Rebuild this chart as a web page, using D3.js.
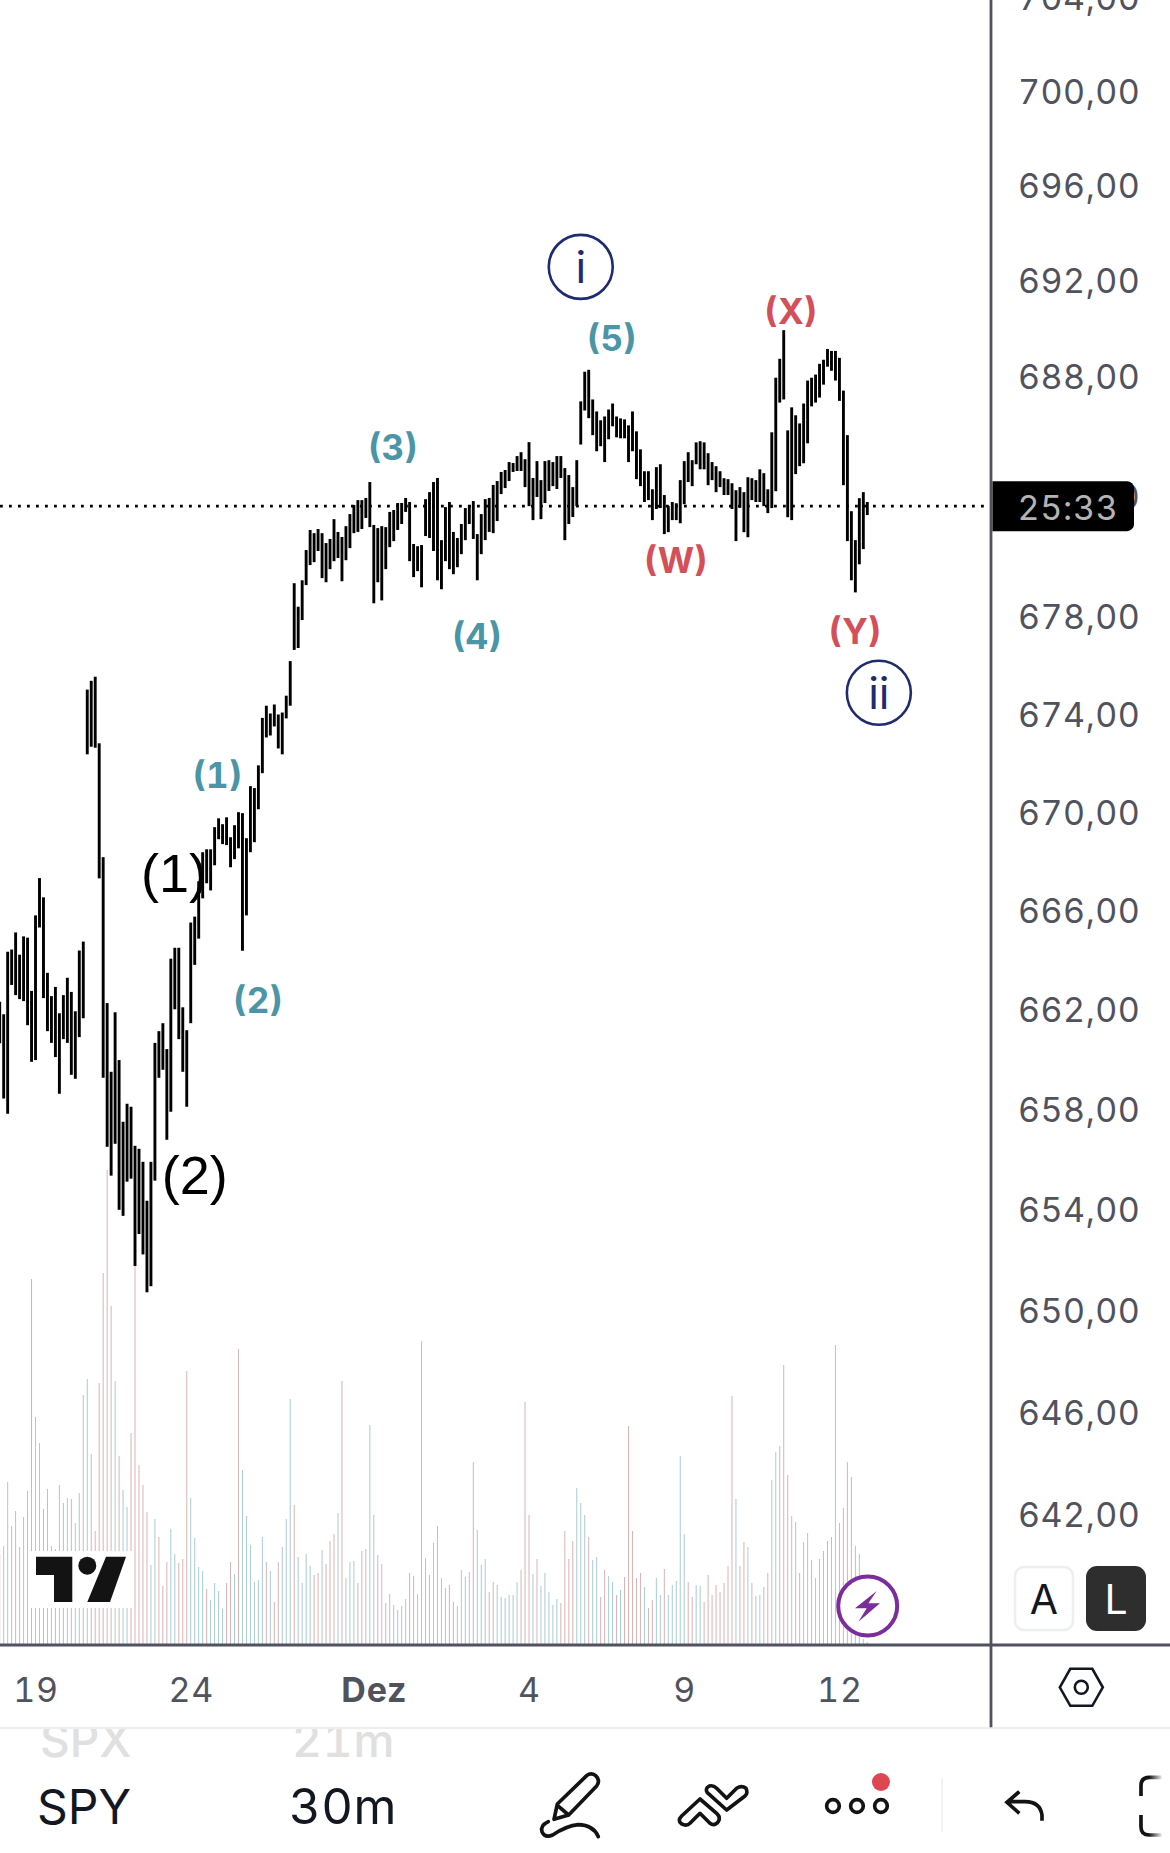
<!DOCTYPE html>
<html>
<head>
<meta charset="utf-8">
<script src="https://cdn.jsdelivr.net/npm/d3@7"></script>
<style>
    html, body { margin: 0; padding: 0; background: #fff; }
    svg { display: block; }
    text { font-family: Inter, "Noto Sans", sans-serif; font-feature-settings: "tnum"; }
</style>
</head>
<body>
<svg id="chart" width="1170" height="1853"></svg>
<script>
// 30m bars, oldest first
const highs = [
    662.34, 661.84, 664.36, 664.45, 665.14, 664.24, 664.98, 664.93, 662.78, 665.83, 667.34, 666.56, 663.51,
    662.57, 662.94, 661.88, 662.61, 663.31, 662.74, 661.96, 664.41, 664.77, 675.03, 675.39, 675.56, 672.83,
    668.19, 662.29, 659.53, 661.92, 660.00, 657.53, 658.25, 658.13, 656.57, 656.45, 655.93, 654.38, 655.93,
    660.69, 661.16, 661.48, 660.44, 664.08, 664.52, 664.52, 662.12, 661.20, 665.54, 665.78, 667.21, 668.39,
    668.51, 668.51, 669.41, 669.77, 669.53, 669.81, 669.00, 669.49, 670.02, 669.98, 668.96, 671.08, 671.00,
    671.93, 673.87, 674.37, 674.05, 674.42, 674.01, 674.09, 674.78, 676.20, 679.41, 678.44, 679.53, 680.78,
    681.61, 681.48, 681.65, 681.48, 681.07, 681.24, 682.06, 681.53, 681.32, 681.77, 682.27, 682.65, 682.85,
    682.85, 682.94, 683.60, 681.82, 681.69, 681.77, 681.73, 682.36, 682.44, 682.73, 682.73, 682.94, 682.77,
    681.03, 680.94, 680.99, 682.89, 683.18, 683.60, 683.77, 681.19, 682.56, 682.77, 681.53, 681.28, 681.86,
    682.52, 682.65, 682.81, 681.44, 682.27, 682.89, 682.94, 683.48, 683.64, 684.02, 684.10, 684.43, 684.39,
    684.68, 684.84, 684.55, 685.26, 683.77, 684.47, 683.68, 684.47, 684.51, 684.43, 684.68, 684.68, 684.18,
    683.89, 683.39, 684.51, 686.96, 688.20, 688.28, 687.04, 686.54, 686.17, 686.33, 686.62, 686.87, 686.33,
    686.25, 686.21, 685.96, 686.54, 685.71, 684.96, 684.05, 684.05, 683.30, 684.22, 684.34, 683.06, 682.60,
    682.77, 682.72, 683.68, 684.47, 684.84, 684.51, 685.25, 685.30, 685.25, 684.80, 684.43, 684.26, 684.05,
    683.76, 683.72, 683.55, 683.26, 683.39, 683.18, 683.80, 683.76, 683.68, 684.13, 683.97, 683.30, 685.67,
    687.95, 688.74, 689.94, 685.75, 686.71, 686.38, 686.04, 686.87, 687.83, 687.95, 688.08, 688.53, 688.70,
    689.15, 689.07, 689.07, 688.78, 687.41, 685.55, 682.39, 681.19, 682.93, 683.18, 682.77
];
const lows = [
    660.67, 658.46, 657.85, 663.02, 662.61, 662.45, 662.37, 661.40, 659.93, 660.00, 665.34, 662.49, 661.16,
    660.69, 660.12, 658.65, 660.84, 660.69, 659.41, 659.25, 660.92, 661.68, 672.38, 672.69, 672.65, 667.33,
    659.29, 656.53, 655.38, 656.65, 654.02, 653.78, 655.14, 655.26, 651.79, 653.06, 652.25, 650.75, 650.99,
    655.18, 659.29, 659.61, 656.81, 657.93, 662.04, 660.84, 659.53, 658.13, 661.48, 663.83, 664.89, 666.52,
    667.13, 666.84, 667.86, 668.92, 668.72, 668.68, 667.78, 668.11, 668.55, 664.40, 665.83, 668.39, 668.80,
    670.14, 671.61, 673.07, 673.15, 673.52, 672.62, 672.38, 673.85, 674.37, 676.66, 676.74, 677.89, 679.33,
    680.16, 680.28, 680.74, 679.62, 679.45, 679.99, 680.32, 680.45, 679.49, 680.36, 680.86, 681.48, 681.53,
    681.65, 682.11, 681.73, 678.58, 679.45, 678.70, 679.99, 680.90, 681.15, 681.61, 681.86, 682.36, 680.32,
    679.66, 679.91, 679.24, 681.36, 681.28, 680.74, 679.53, 679.16, 680.32, 679.99, 679.78, 680.07, 680.61,
    681.19, 681.86, 681.24, 679.53, 680.61, 681.19, 681.53, 681.48, 681.98, 683.10, 683.35, 683.64, 684.02,
    684.06, 684.06, 683.39, 682.60, 682.02, 682.98, 682.06, 682.73, 683.23, 683.43, 683.31, 683.77, 681.19,
    681.86, 682.15, 682.60, 685.16, 686.58, 686.26, 685.55, 684.88, 685.09, 684.43, 685.38, 685.92, 685.46,
    685.42, 685.42, 684.43, 684.88, 683.72, 683.43, 682.77, 682.85, 682.02, 682.48, 682.52, 681.44, 681.52,
    682.02, 682.02, 681.89, 682.68, 683.60, 683.43, 684.34, 684.13, 684.13, 683.47, 683.68, 683.18, 683.39,
    683.06, 683.06, 682.48, 681.15, 682.53, 681.52, 681.31, 682.85, 682.77, 682.77, 682.60, 682.31, 682.52,
    683.22, 686.91, 687.04, 682.14, 682.02, 683.93, 684.26, 684.38, 685.21, 686.75, 686.91, 687.12, 687.66,
    688.41, 688.24, 687.83, 686.98, 683.47, 681.15, 679.53, 679.03, 680.19, 680.82, 682.23
];
// volume per bar (relative units), 1 = up bar, 0 = down bar
const volumes = [
    90, 98, 162, 118, 133, 97, 127, 153, 365, 227, 201, 135, 155, 98, 95, 159, 141, 146, 145, 121, 151, 249, 265,
    190, 113, 261, 371, 474, 338, 263, 188, 154, 137, 211, 385, 179, 159, 132, 79, 125, 107, 58, 82, 115, 90, 81,
    85, 273, 146, 106, 77, 73, 55, 44, 61, 53, 35, 61, 82, 70, 295, 174, 128, 99, 62, 64, 107, 82, 73, 42, 82, 97,
    125, 245, 139, 87, 61, 90, 78, 69, 71, 94, 80, 103, 110, 131, 263, 66, 82, 83, 61, 93, 95, 219, 129, 89, 80,
    41, 50, 39, 34, 38, 45, 71, 68, 50, 303, 86, 69, 101, 118, 66, 56, 59, 42, 38, 74, 67, 72, 182, 114, 79, 85,
    52, 62, 59, 47, 46, 49, 49, 62, 74, 242, 129, 70, 85, 58, 71, 52, 39, 45, 41, 113, 85, 103, 156, 141, 129, 107,
    84, 87, 47, 74, 68, 62, 49, 54, 67, 218, 113, 66, 71, 57, 36, 44, 66, 49, 75, 49, 59, 63, 188, 110, 62, 47, 59,
    58, 42, 69, 49, 59, 52, 61, 78, 248, 145, 78, 102, 97, 61, 48, 49, 57, 71, 164, 192, 198, 279, 169, 128, 122,
    71, 102, 111, 84, 66, 85, 93, 103, 107, 299, 121, 136, 182, 167, 98, 90, 5, 2
];
const volumeUp = [
    0, 1, 1, 0, 0, 0, 1, 0, 0, 1, 1, 0, 0, 1, 0, 1, 0, 1, 0, 1, 1, 0, 1, 0, 0, 0, 0, 0, 0, 1, 0, 1, 1, 0, 0, 0, 0,
    0, 1, 1, 0, 0, 0, 1, 1, 0, 0, 0, 1, 1, 1, 1, 0, 1, 1, 1, 1, 0, 0, 1, 0, 1, 1, 1, 1, 1, 1, 0, 1, 0, 0, 1, 1, 1,
    0, 1, 1, 1, 1, 0, 0, 1, 0, 0, 0, 1, 0, 1, 1, 1, 0, 0, 0, 1, 1, 0, 0, 0, 0, 1, 1, 1, 1, 0, 0, 1, 0, 1, 0, 1, 0,
    1, 1, 0, 0, 0, 1, 1, 1, 0, 1, 1, 1, 0, 0, 1, 1, 1, 1, 1, 1, 0, 0, 0, 1, 0, 1, 1, 1, 1, 1, 0, 0, 0, 0, 1, 1, 1,
    0, 1, 1, 0, 0, 1, 1, 0, 1, 0, 0, 0, 0, 0, 1, 0, 0, 1, 1, 0, 1, 1, 1, 1, 1, 0, 0, 1, 1, 0, 0, 0, 0, 0, 0, 0, 0,
    1, 0, 0, 1, 0, 1, 1, 0, 0, 1, 1, 0, 0, 0, 1, 0, 0, 1, 1, 0, 1, 1, 1, 0, 0, 1, 0, 0, 0, 0, 0, 1, 1, 1
];
const priceTicks = [704, 700, 696, 692, 688, 683, 678, 674, 670, 666, 662, 658, 654, 650, 646, 642];
const dateTickBars = [8, 47, 93, 132, 171, 210];
const dateTickLabels = ['19', '24', 'Dez', '4', '9', '12'];
const lastPrice = 682.6;
const countdown = '25:33';
const waveLabels = [
    {text: '(1)', bar: 54.7, price: 671.55, color: '#4a96a6'},
    {text: '(2)', bar: 64.9, price: 662.4, color: '#4a96a6'},
    {text: '(3)', bar: 98.8, price: 685.05, color: '#4a96a6'},
    {text: '(4)', bar: 119.9, price: 677.25, color: '#4a96a6'},
    {text: '(5)', bar: 153.8, price: 689.6, color: '#4a96a6'},
    {text: '(W)', bar: 169.9, price: 680.35, color: '#d45059'},
    {text: '(X)', bar: 198.8, price: 690.75, color: '#d45059'},
    {text: '(Y)', bar: 214.9, price: 677.45, color: '#d45059'}
];
const bigLabels = [
    {text: '(1)', bar: 43.8, price: 667.55},
    {text: '(2)', bar: 49, price: 655.4}
];
const circleLabels = [
    {text: 'i', bar: 146, price: 692.6},
    {text: 'ii', bar: 220.9, price: 674.9}
];

let svg = d3.select('#chart'),
    axisColor = '#50535e',
    axisX = 991,
    bottomY = 1645;

let x = d3.scaleLinear().domain([0, 218]).range([-0.3, 867.3]),
    y = d3.scaleLog().domain([642, 700]).range([1515, 92]),
    v = d3.scaleLinear().domain([0, 500]).range([1644, 1144]);

// volume under the bars
svg.append('g').selectAll('line')
    .data(volumes)
    .enter().append('line')
    .attr('x1', (d, i) => x(i)).attr('x2', (d, i) => x(i))
    .attr('y1', v(0)).attr('y2', d => v(d))
    .attr('stroke', (d, i) => volumeUp[i] ? '#a8ccd1' : '#dab3b3')
    .attr('stroke-width', 1);

// last price line
svg.append('line')
    .attr('x1', 0).attr('x2', 985)
    .attr('y1', y(lastPrice)).attr('y2', y(lastPrice))
    .attr('stroke', '#000').attr('stroke-width', 2.6)
    .attr('stroke-dasharray', '2.8 6.2');

svg.append('g').selectAll('line')
    .data(highs)
    .enter().append('line')
    .attr('x1', (d, i) => x(i)).attr('x2', (d, i) => x(i))
    .attr('y1', d => y(d)).attr('y2', (d, i) => y(lows[i]))
    .attr('stroke', '#000')
    .attr('stroke-width', 2.9);

// elliott wave labels
svg.append('g').selectAll('text')
    .data(waveLabels)
    .enter().append('text')
    .attr('x', d => x(d.bar)).attr('y', d => y(d.price))
    .attr('text-anchor', 'middle').attr('dominant-baseline', 'central')
    .attr('font-size', 35).attr('font-weight', 700)
    .attr('fill', d => d.color)
    .text(d => d.text);

svg.append('g').selectAll('text')
    .data(bigLabels)
    .enter().append('text')
    .attr('x', d => x(d.bar)).attr('y', d => y(d.price))
    .attr('text-anchor', 'middle').attr('dominant-baseline', 'central')
    .style('font-family', '"Liberation Sans"').attr('font-size', 54)
    .attr('fill', '#000')
    .text(d => d.text);

let circles = svg.append('g').selectAll('g')
    .data(circleLabels)
    .enter().append('g')
    .attr('transform', d => `translate(${x(d.bar)},${y(d.price)})`);
circles.append('circle')
    .attr('r', 32).attr('fill', 'none')
    .attr('stroke', '#1f2b70').attr('stroke-width', 2.6);
circles.append('text')
    .attr('text-anchor', 'middle').attr('dominant-baseline', 'central')
    .attr('font-size', 44).attr('fill', '#1f2b70')
    .text(d => d.text);

// tradingview logo with its white backing
let logo = svg.append('g');
logo.append('rect').attr('x', 30).attr('y', 1551).attr('width', 103).attr('height', 57).attr('fill', '#fff');
logo.append('path').attr('d', 'M36 1556.7H72.3V1602H54V1575H36Z').attr('fill', '#131313');
logo.append('circle').attr('cx', 87.3).attr('cy', 1565.7).attr('r', 9).attr('fill', '#131313');
logo.append('path').attr('d', 'M106 1556.7H126L110 1602H87.3Z').attr('fill', '#131313');

// lightning badge
let bolt = svg.append('g').attr('transform', 'translate(867.7,1606)');
bolt.append('circle').attr('r', 29.5).attr('fill', '#fff').attr('stroke', '#7b2d9e').attr('stroke-width', 4);
bolt.append('path').attr('d', 'M9 -15L-12.7 2.3H-1L-9.3 15.7L12.3 -2.7H0.7Z').attr('fill', '#7b2d9e');

// price axis
let yAxis = svg.append('g')
    .attr('transform', `translate(${axisX},0)`)
    .call(d3.axisRight(y).tickValues(priceTicks).tickSize(0).tickPadding(27)
        .tickFormat(d => d.toFixed(2).replace('.', ',')));
yAxis.select('.domain').remove();
yAxis.selectAll('text')
    .style('font-family', 'Inter')
    .attr('font-size', 34).attr('dy', '0.34em')
    .attr('letter-spacing', 0.5)
    .attr('fill', axisColor);

// date axis
let xAxis = svg.append('g')
    .attr('transform', `translate(4,${bottomY})`)
    .call(d3.axisBottom(x).tickValues(dateTickBars).tickSize(0).tickPadding(0)
        .tickFormat((d, i) => dateTickLabels[i]));
xAxis.select('.domain').remove();
xAxis.selectAll('text')
    .style('font-family', 'Inter')
    .attr('font-size', 34).attr('y', 57).attr('dy', 0)
    .attr('font-weight', (d, i) => dateTickLabels[i] === 'Dez' ? 700 : 400)
    .attr('letter-spacing', 0.8)
    .attr('fill', axisColor);

svg.append('line').attr('x1', axisX).attr('x2', axisX).attr('y1', 0).attr('y2', 1728)
    .attr('stroke', axisColor).attr('stroke-width', 2.8);
svg.append('line').attr('x1', 0).attr('x2', 1170).attr('y1', bottomY).attr('y2', bottomY)
    .attr('stroke', axisColor).attr('stroke-width', 2.8);
svg.append('line').attr('x1', 0).attr('x2', 1170).attr('y1', 1728).attr('y2', 1728)
    .attr('stroke', '#e9e9e9').attr('stroke-width', 1.5);

// countdown tag on the price axis
svg.append('path')
    .attr('d', `M${axisX + 1.5} ${y(lastPrice) - 25}H1127a7 7 0 0 1 7 7V${y(lastPrice) + 18}a7 7 0 0 1 -7 7H${axisX + 1.5}Z`)
    .attr('fill', '#000');
svg.append('text')
    .attr('x', 1068).attr('y', y(lastPrice) + 13.5)
    .attr('text-anchor', 'middle')
    .attr('font-size', 34).attr('letter-spacing', 0.7).attr('fill', '#b4b4b4')
    .text(countdown);

// A and L buttons
svg.append('rect').attr('x', 1015).attr('y', 1567).attr('width', 58).attr('height', 63).attr('rx', 9)
    .attr('fill', '#fff').attr('stroke', '#eceef0').attr('stroke-width', 2.5);
svg.append('text').attr('x', 1044).attr('y', 1614).attr('text-anchor', 'middle')
    .attr('font-size', 41).attr('fill', '#131722').text('A');
svg.append('rect').attr('x', 1086).attr('y', 1566).attr('width', 60).attr('height', 65).attr('rx', 11)
    .attr('fill', '#2e2e2e');
svg.append('text').attr('x', 1116).attr('y', 1614).attr('text-anchor', 'middle')
    .attr('font-size', 41).attr('fill', '#fff').text('L');

// hexagon settings icon
let hex = svg.append('g').attr('transform', 'translate(1081.3,1687.3)')
    .attr('fill', 'none').attr('stroke', '#131722').attr('stroke-width', 2.6);
hex.append('path').attr('d', 'M-21.5 0L-11 -18.5H11L21.5 0L11 18.5H-11Z');
hex.append('circle').attr('r', 6.5);

// bottom toolbar
svg.append('clipPath').attr('id', 'ghostClip')
    .append('rect').attr('x', 0).attr('y', 1729).attr('width', 1170).attr('height', 60);
let ghost = svg.append('g').attr('clip-path', 'url(#ghostClip)')
    .attr('font-size', 46).attr('font-weight', 500).attr('fill', '#e0e0e0')
    .style('font-feature-settings', 'normal');
ghost.append('text').attr('x', 40).attr('y', 1757).text('SPX');
ghost.append('text').attr('x', 292).attr('y', 1757).attr('letter-spacing', 1).text('21m');

svg.append('text').attr('x', 37).attr('y', 1824)
    .attr('font-size', 48).attr('fill', '#131722').text('SPY');
svg.append('text').attr('x', 289).attr('y', 1824)
    .attr('font-size', 49).attr('letter-spacing', 0.5).attr('fill', '#131722').text('30m');

// icons, coordinates taken in a 3x frame
let tools = svg.append('g').attr('transform', 'translate(530,1730) scale(0.3333)')
    .attr('fill', 'none').attr('stroke', '#131313').attr('stroke-width', 11)
    .attr('stroke-linecap', 'round').attr('stroke-linejoin', 'round');
tools.append('path').attr('d', 'M72 268L82 222L170 137Q183 126 197 137Q212 152 200 168L116 255ZM82 226L116 255');
tools.append('path').attr('d', 'M55 275Q30 287 36 305Q45 325 68 315Q110 287 145 284Q190 285 205 320');
tools.append('path').attr('d', 'M510 207L455 258Q441 272 455 282Q470 290 480 280L510 250L540 280Q553 290 565 275Q573 262 560 250Z');
tools.append('path').attr('d', 'M590 240L532 188Q524 176 538 168Q550 165 560 175L590 205L620 175Q635 165 648 175Q655 190 645 198Z');
tools.selectAll('circle.dot')
    .data([909, 981, 1053])
    .enter().append('circle')
    .attr('class', 'dot').attr('cx', d => d).attr('cy', 228).attr('r', 19);
tools.append('circle').attr('cx', 1053).attr('cy', 156).attr('r', 27)
    .attr('fill', '#e04650').attr('stroke', 'none');

svg.append('line').attr('x1', 942).attr('x2', 942).attr('y1', 1778).attr('y2', 1832)
    .attr('stroke', '#efefef').attr('stroke-width', 1.5);

let right = svg.append('g').attr('transform', 'translate(960,1500) scale(0.3333)')
    .attr('fill', 'none').attr('stroke', '#131313').attr('stroke-width', 11);
right.append('path').attr('d', 'M246 962V945Q240 905 195 905H145M178 875L141 907L178 940');
right.append('path').attr('d', 'M605 832H568Q543 832 543 857V888M543 945V980Q543 1005 568 1005H605');

let fade = svg.append('linearGradient').attr('id', 'fade');
fade.append('stop').attr('offset', 0).attr('stop-color', '#fff').attr('stop-opacity', 0);
fade.append('stop').attr('offset', 1).attr('stop-color', '#fff').attr('stop-opacity', 1);
svg.append('rect').attr('x', 1149).attr('y', 1770).attr('width', 14).attr('height', 70).attr('fill', 'url(#fade)');
</script>
</body>
</html>
